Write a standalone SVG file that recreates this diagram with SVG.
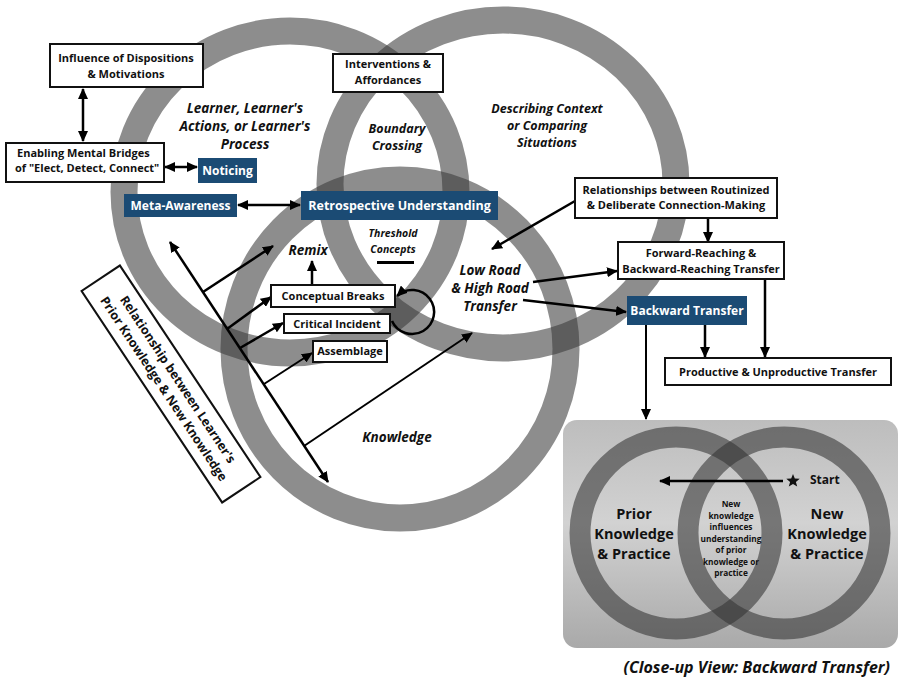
<svg xmlns="http://www.w3.org/2000/svg" width="901" height="686" viewBox="0 0 901 686">
<defs>
<style>
.ring{fill:none;stroke:#3a3a3a;stroke-opacity:.58;stroke-width:27}
.iring{fill:none;stroke:#333;stroke-opacity:.58;stroke-width:21}
.box{fill:#fff;stroke:#111;stroke-width:2}
.dbox{fill:#1b4b74}
.t{font-family:"Open Sans","Liberation Sans",sans-serif;font-weight:700;font-size:11px;fill:#111;text-anchor:middle}
.w{fill:#fff;font-size:12px}
.it{font-style:italic;font-size:13.5px}
.big{font-size:14.5px}
.sm{font-size:8.3px}
.c{stroke:#000;stroke-width:2.5;fill:none}
.c2{stroke:#000;stroke-width:2;fill:none}
</style>
<marker id="ah" viewBox="0 0 11 10" refX="10" refY="5" markerWidth="11" markerHeight="10" markerUnits="userSpaceOnUse" orient="auto-start-reverse"><path d="M0,0 L11,5 L0,10 z" fill="#000"/></marker>
<linearGradient id="ig" x1="0" y1="0" x2="0" y2="1"><stop offset="0" stop-color="#bdbdbd"/><stop offset="0.45" stop-color="#d2d2d2"/><stop offset="1" stop-color="#a9a9a9"/></linearGradient>
</defs>
<rect width="901" height="686" fill="#fff"/>

<g id="rings">
<ellipse class="ring" cx="290" cy="192" rx="166" ry="161"/>
<ellipse class="ring" cx="503" cy="184" rx="173" ry="164"/>
<ellipse class="ring" cx="400" cy="349" rx="166" ry="169"/>
</g>

<g id="labels" class="t it">
<text x="245" y="113">Learner, Learner's</text>
<text x="245" y="131">Actions, or Learner's</text>
<text x="245" y="149">Process</text>
<text x="397" y="133" style="font-size:12.5px">Boundary</text>
<text x="397" y="150" style="font-size:12.5px">Crossing</text>
<text x="547" y="113" style="font-size:12.5px">Describing Context</text>
<text x="547" y="130" style="font-size:12.5px">or Comparing</text>
<text x="547" y="147" style="font-size:12.5px">Situations</text>
<text x="393" y="237" style="font-size:10.5px">Threshold</text>
<text x="393" y="253" style="font-size:10.5px">Concepts</text>
<text x="308" y="255">Remix</text>
<text x="490" y="275">Low Road</text>
<text x="490" y="293">&amp; High Road</text>
<text x="490" y="311">Transfer</text>
<text x="397" y="442">Knowledge</text>
</g>
<rect x="377" y="261" width="37" height="3" fill="#000"/>

<g id="connectors">
<path class="c" d="M83,89 L83,141" marker-start="url(#ah)" marker-end="url(#ah)"/>
<path class="c" d="M165,167 L197,167" marker-start="url(#ah)" marker-end="url(#ah)"/>
<path class="c" d="M238,205 L300,205" marker-start="url(#ah)" marker-end="url(#ah)"/>
<path class="c" d="M575,201 L492,249" marker-end="url(#ah)"/>
<path class="c" d="M708,218 L708,242" marker-end="url(#ah)"/>
<path class="c" d="M533,282 L617,271" marker-end="url(#ah)"/>
<path class="c" d="M523,300 L626,312" marker-end="url(#ah)"/>
<path class="c" d="M765,279 L765,357" marker-end="url(#ah)"/>
<path class="c" d="M705,325 L705,357" marker-end="url(#ah)"/>
<path class="c2" d="M646,325 L646,419" marker-end="url(#ah)"/>
<path class="c" d="M170,242 L328,482" marker-start="url(#ah)" marker-end="url(#ah)"/>
<path class="c" d="M203,292 L273,246" marker-end="url(#ah)"/>
<path class="c" d="M227,329 L271,297" marker-end="url(#ah)"/>
<path class="c" d="M240,348 L283,323" marker-end="url(#ah)"/>
<path class="c2" d="M264,384 L312,353" marker-end="url(#ah)"/>
<path class="c2" d="M304,446 L472,333" marker-end="url(#ah)"/>
<path class="c" d="M312,285 L312,261" marker-end="url(#ah)"/>
<path class="c" d="M392,321 A22,22 0 1 0 397,296" marker-end="url(#ah)"/>
</g>

<g id="influence"><rect class="box" x="50" y="44" width="153" height="43"/><text class="t" x="126" y="62">Influence of Dispositions</text><text class="t" x="126" y="78">&amp; Motivations</text></g>
<g id="enabling"><rect class="box" x="6" y="143" width="158" height="39"/><text class="t" x="17" y="157" style="text-anchor:start">Enabling Mental Bridges</text><text class="t" x="15" y="172" style="text-anchor:start">of "Elect, Detect, Connect"</text></g>
<g id="noticing"><rect class="dbox" x="198" y="158" width="59" height="25"/><text class="t w" x="227.5" y="175">Noticing</text></g>
<g id="meta"><rect class="dbox" x="124" y="194" width="113" height="23"/><text class="t w" x="180.5" y="210">Meta-Awareness</text></g>
<g id="interventions"><rect class="box" x="333" y="54" width="110" height="38"/><text class="t" x="388" y="68">Interventions &amp;</text><text class="t" x="388" y="84">Affordances</text></g>
<g id="retro"><rect class="dbox" x="301" y="191" width="197" height="29"/><text class="t w" x="399.5" y="210" style="font-size:12.5px">Retrospective Understanding</text></g>
<g id="concbreaks"><rect class="box" x="271" y="285" width="124" height="22"/><text class="t" x="333" y="300">Conceptual Breaks</text></g>
<g id="critical"><rect class="box" x="284" y="314" width="106" height="19"/><text class="t" x="337" y="328">Critical Incident</text></g>
<g id="assemblage"><rect class="box" x="313" y="341" width="74" height="21"/><text class="t" x="350" y="355">Assemblage</text></g>
<g id="relationships"><rect class="box" x="575" y="178" width="202" height="40"/><text class="t" x="676" y="194">Relationships between Routinized</text><text class="t" x="676" y="209">&amp; Deliberate Connection-Making</text></g>
<g id="forward"><rect class="box" x="618" y="242" width="166" height="37"/><text class="t" x="701" y="257">Forward-Reaching &amp;</text><text class="t" x="701" y="273">Backward-Reaching Transfer</text></g>
<g id="backward"><rect class="dbox" x="627" y="296" width="120" height="29"/><text class="t w" x="687" y="315">Backward Transfer</text></g>
<g id="productive"><rect class="box" x="665" y="358" width="226" height="27"/><text class="t" x="778" y="376">Productive &amp; Unproductive Transfer</text></g>

<g id="relationship-box" transform="translate(171,384) rotate(56.4)">
<rect class="box" x="-127" y="-23" width="254" height="46"/>
<text class="t" x="0" y="-4" style="font-size:12.5px">Relationship between Learner's</text>
<text class="t" x="0" y="13" style="font-size:12.5px">Prior Knowledge &amp; New Knowledge</text>
</g>

<g id="inset">
<rect x="563" y="420" width="335" height="228" rx="14" fill="url(#ig)"/>
<circle class="iring" cx="676" cy="533" r="96"/>
<circle class="iring" cx="784" cy="533" r="96"/>
<path class="c" d="M783,481 L660,481" marker-end="url(#ah)"/>
<polygon points="793,474 794.8,478.6 799.7,478.8 795.9,481.9 797.2,486.6 793,483.9 788.8,486.6 790.1,481.9 786.3,478.8 791.2,478.6" fill="#111"/>
<text class="t" x="810" y="484" style="text-anchor:start;font-size:12px">Start</text>
<text class="t big" x="634" y="519">Prior</text>
<text class="t big" x="634" y="539">Knowledge</text>
<text class="t big" x="634" y="559">&amp; Practice</text>
<text class="t big" x="827" y="519">New</text>
<text class="t big" x="827" y="539">Knowledge</text>
<text class="t big" x="827" y="559">&amp; Practice</text>
<text class="t sm" x="731" y="507">New</text>
<text class="t sm" x="731" y="518.5">knowledge</text>
<text class="t sm" x="731" y="530">influences</text>
<text class="t sm" x="731" y="541.5">understanding</text>
<text class="t sm" x="731" y="553">of prior</text>
<text class="t sm" x="731" y="564.5">knowledge or</text>
<text class="t sm" x="731" y="576">practice</text>
</g>
<text class="t it" x="890" y="673" style="text-anchor:end;font-size:16px">(Close-up View: Backward Transfer)</text>
</svg>
